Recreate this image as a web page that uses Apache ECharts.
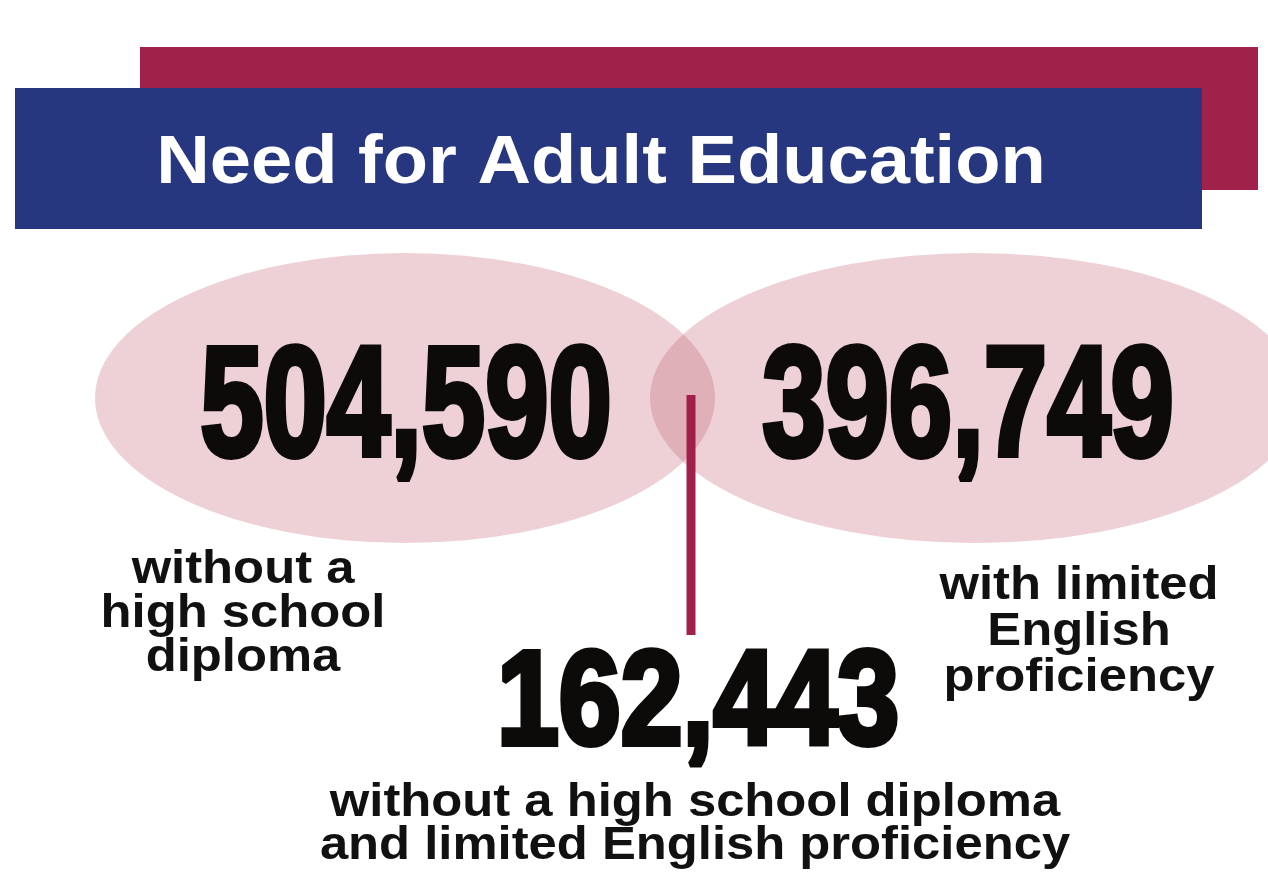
<!DOCTYPE html>
<html><head><meta charset="utf-8">
<script src="https://cdn.jsdelivr.net/npm/echarts@6/dist/echarts.min.js"></script>
<style>html,body{margin:0;padding:0;background:#fff}#c{width:1268px;height:878px}</style>
</head><body><div id="c"></div>
<script>
// ---- data ----
const titleText = 'Need for Adult Education';
const categories = ['without a\nhigh school\ndiploma', 'with limited\nEnglish\nproficiency', 'without a high school diploma\nand limited English proficiency'];
const values = [504590, 396749, 162443];

// ---- layout (coordinate space = 1268 x 878 canvas) ----
const ellipseCenters = [[405, 398], [975, 398]];
const ellipseSizes = [[620, 290], [650, 290]];
const numberPos = [[406, 412], [968, 412], [698, 707]];
const numberFont = [[156, 0.73], [156, 0.73], [134, 0.83]];
const labelPos = [[243, 548], [1079, 563], [695, 782]];
const labelLineHeight = [44, 46, 43];

const chart = echarts.init(document.getElementById('c'), null, {renderer: 'canvas'});
const W = 1268, H = 878;
chart.setOption({
  animation: false,
  backgroundColor: '#ffffff',
  grid: {left: 0, right: 0, top: 0, bottom: 0},
  xAxis: {type: 'value', min: 0, max: W, show: false},
  yAxis: {type: 'value', min: 0, max: H, inverse: true, show: false},
  series: [{
    type: 'scatter',
    silent: true,
    symbol: 'circle',
    data: ellipseCenters.map((c, i) => ({value: c, symbolSize: ellipseSizes[i]})),
    itemStyle: {color: 'rgba(194,97,113,0.36)'},
    z: 1
  }]
});

const px = p => chart.convertToPixel({gridIndex: 0}, p);
const fmt = v => v.toLocaleString('en-US');

const graphics = [
  {type: 'rect', shape: {x: 140, y: 47, width: 1118, height: 143}, style: {fill: '#a0224a'}, z: 10},
  {type: 'rect', shape: {x: 15, y: 88, width: 1187, height: 141}, style: {fill: '#26367f'}, z: 11},
  {type: 'text', x: 601, y: 164, scaleX: 1.09, z: 12, style: {text: titleText, fill: '#ffffff', font: 'bold 68px "Liberation Sans", Arial, sans-serif', align: 'center', verticalAlign: 'middle'}},
];

// connector line from overlap to intersection number
const lt = px([691, 395]), lb = px([691, 635]);
graphics.push({type: 'line', z: 12, shape: {x1: lt[0], y1: lt[1], x2: lb[0], y2: lb[1]}, style: {stroke: '#a1204b', lineWidth: 9}});

values.forEach((v, i) => {
  const p = px(numberPos[i]);
  graphics.push({
    type: 'text', x: p[0], y: p[1], scaleX: numberFont[i][1], z: 13,
    style: {text: fmt(v), fill: '#0d0a0a', stroke: '#0d0a0a', lineWidth: 6,
      font: '900 ' + numberFont[i][0] + 'px "Liberation Sans", Arial, sans-serif', align: 'center', verticalAlign: 'middle'}
  });
});

categories.forEach((c, i) => {
  const p = px(labelPos[i]);
  graphics.push({
    type: 'text', x: p[0], y: p[1], scaleX: 1.08, z: 13,
    style: {text: c, fill: '#111111', font: 'bold 47px "Liberation Sans", Arial, sans-serif',
      lineHeight: labelLineHeight[i], align: 'center', verticalAlign: 'top'}
  });
});

chart.setOption({graphic: {elements: graphics}});
</script></body></html>
